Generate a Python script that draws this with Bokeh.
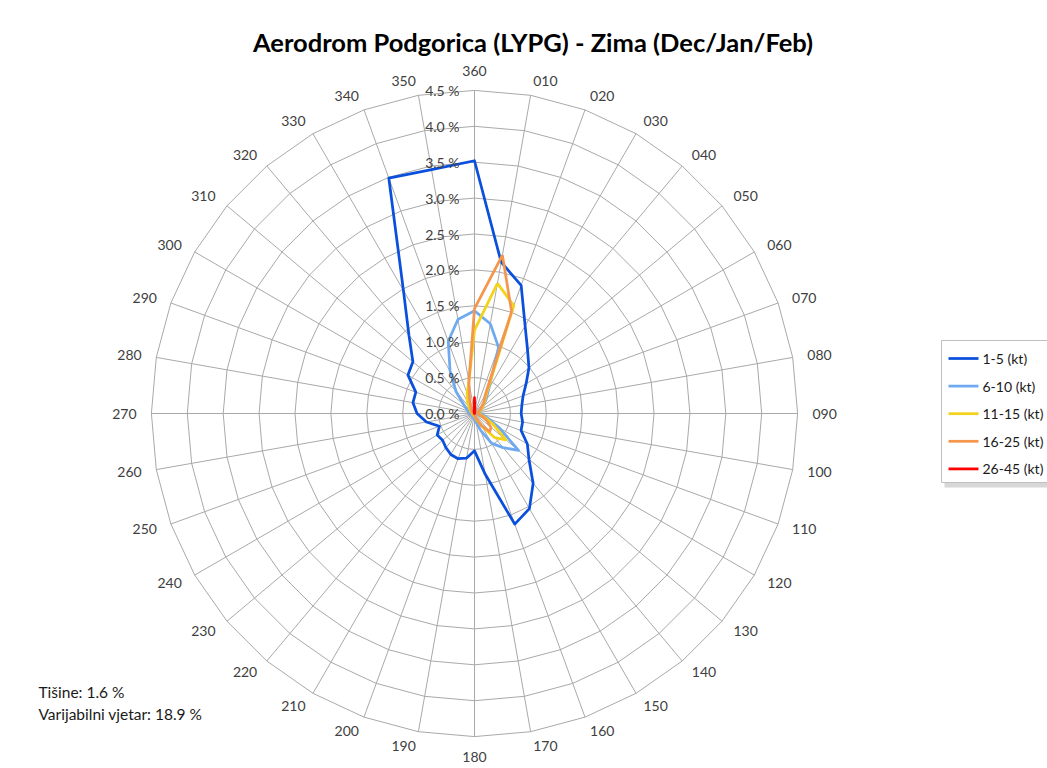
import numpy as np
from bokeh.plotting import figure
from bokeh.models import Range1d
from bokeh.embed import file_html
from bokeh.resources import INLINE
from bokeh.core.properties import value

# ---------------- data ----------------
directions = ["010", "020", "030", "040", "050", "060", "070", "080", "090",
              "100", "110", "120", "130", "140", "150", "160", "170", "180",
              "190", "200", "210", "220", "230", "240", "250", "260", "270",
              "280", "290", "300", "310", "320", "330", "340", "350", "360"]

ring_values = [0.0, 0.5, 1.0, 1.5, 2.0, 2.5, 3.0, 3.5, 4.0, 4.5]
ring_labels = ["0.0 %", "0.5 %", "1.0 %", "1.5 %", "2.0 %", "2.5 %",
               "3.0 %", "3.5 %", "4.0 %", "4.5 %"]

series_names = ["1-5 (kt)", "6-10 (kt)", "11-15 (kt)", "16-25 (kt)", "26-45 (kt)"]
series_colors = ["#0a50dc", "#6faaf0", "#f2d21a", "#f5964d", "#ff0000"]

kt_1_5 = [2.14, 1.90, 1.41, 1.15, 0.99, 0.83, 0.72, 0.67, 0.65,
          0.68, 0.69, 0.85, 0.99, 1.27, 1.53, 1.64, 0.86, 0.52,
          0.63, 0.67, 0.66, 0.62, 0.58, 0.60, 0.52, 0.68, 0.80,
          0.87, 0.87, 1.07, 1.12, 1.42, 1.98, 3.49, 3.45, 3.52]
kt_6_10 = [1.27, 0.98, 0.40, 0.25, 0.15, 0.10, 0.08, 0.07, 0.08,
           0.12, 0.20, 0.40, 0.80, 0.62, 0.48, 0.25, 0.12, 0.08,
           0.06, 0.05, 0.05, 0.05, 0.05, 0.05, 0.05, 0.06, 0.07,
           0.08, 0.10, 0.13, 0.20, 0.40, 0.68, 1.07, 1.33, 1.43]
kt_11_15 = [1.84, 1.60, 0.35, 0.22, 0.15, 0.10, 0.07, 0.06, 0.06,
            0.08, 0.15, 0.30, 0.57, 0.44, 0.20, 0.10, 0.05, 0.04,
            0.03, 0.03, 0.03, 0.03, 0.03, 0.03, 0.03, 0.03, 0.03,
            0.04, 0.05, 0.06, 0.08, 0.12, 0.20, 0.30, 0.45, 1.16]
kt_16_25 = [2.24, 1.51, 0.30, 0.20, 0.12, 0.08, 0.05, 0.05, 0.05,
            0.06, 0.12, 0.20, 0.30, 0.33, 0.20, 0.08, 0.04, 0.03,
            0.02, 0.02, 0.02, 0.02, 0.02, 0.02, 0.02, 0.02, 0.02,
            0.02, 0.03, 0.04, 0.05, 0.08, 0.10, 0.20, 0.45, 1.46]
kt_26_45 = [0.03, 0.0, 0.0, 0.0, 0.0, 0.0, 0.0, 0.0, 0.0,
            0.0, 0.0, 0.0, 0.0, 0.0, 0.0, 0.0, 0.0, 0.0,
            0.0, 0.0, 0.0, 0.0, 0.0, 0.0, 0.0, 0.0, 0.0,
            0.0, 0.0, 0.0, 0.0, 0.0, 0.0, 0.0, 0.03, 0.22]

title_text = "Aerodrom Podgorica (LYPG) - Zima (Dec/Jan/Feb)"
note_calm = "Tišine: 1.6 %"
note_var = "Varijabilni vjetar: 18.9 %"

series_values = [kt_1_5, kt_6_10, kt_11_15, kt_16_25, kt_26_45]

# ---------------- layout helpers ----------------
W, H = 1047, 768
S = 71.8             # px per percent
CX, CY = 474, 413    # centre in picture pixels
OFF = 0              # figure origin in the picture


def px(x, y):
    """picture pixel -> data coordinates"""
    return (x - CX) / S, (CY - y) / S


FONT = "Lato"

p = figure(width=W, height=H, output_backend="svg", toolbar_location=None,
           x_axis_type=None, y_axis_type=None, min_border=0,
           x_range=Range1d(-(CX - OFF) / S, (W - (CX - OFF)) / S),
           y_range=Range1d(-(H - (CY - OFF)) / S, (CY - OFF) / S))
p.outline_line_color = None
p.grid.visible = False
p.background_fill_color = "white"
p.border_fill_color = "white"

theta = np.deg2rad([int(d) for d in directions])
rmax = ring_values[-1]

# rings (polygons)
ring_xs, ring_ys = [], []
for r in ring_values[1:]:
    xs = list(r * np.sin(theta)) + [r * np.sin(theta[0])]
    ys = list(r * np.cos(theta)) + [r * np.cos(theta[0])]
    ring_xs.append(xs)
    ring_ys.append(ys)
p.multi_line(ring_xs, ring_ys, line_color="#a9a9a9", line_width=1)

# spokes
p.segment(x0=np.zeros(len(theta)), y0=np.zeros(len(theta)),
          x1=rmax * np.sin(theta), y1=rmax * np.cos(theta),
          line_color="#a9a9a9", line_width=1)

# series
for name, col, vals in zip(series_names, series_colors, series_values):
    v = np.array(vals)
    xs = list(v * np.sin(theta)) + [v[0] * np.sin(theta[0])]
    ys = list(v * np.cos(theta)) + [v[0] * np.cos(theta[0])]
    p.line(xs, ys, line_color=col, line_width=2.75, line_join="round")

# radial value labels
p.text(x=[-15 / S] * len(ring_values), y=ring_values, text=ring_labels,
       text_align="right", text_baseline="middle", text_font=value(FONT),
       text_font_size="14px", text_color="#404040")

# direction labels
r0 = 338 / S
groups = {"top": [], "bottom": [], "right": [], "left": []}
for d, t in zip(directions, theta):
    deg = int(d) % 360
    if deg == 0:
        groups["top"].append((d, t))
    elif deg == 180:
        groups["bottom"].append((d, t))
    elif deg < 180:
        groups["right"].append((d, t))
    else:
        groups["left"].append((d, t))
spec = {"top": ("center", "bottom"), "bottom": ("center", "top"),
        "right": ("left", "middle"), "left": ("right", "middle")}
for g, items in groups.items():
    if not items:
        continue
    al, bl = spec[g]
    p.text(x=[r0 * np.sin(t) for _, t in items], y=[r0 * np.cos(t) for _, t in items],
           text=[d for d, _ in items], text_align=al, text_baseline=bl,
           text_font=value(FONT), text_font_size="14px", text_color="#404040")

# title
tx, ty = px(532.5, 41)
p.text(x=[tx], y=[ty], text=[title_text], text_align="center", text_baseline="middle",
       text_font=value(FONT), text_font_style="bold", text_font_size="25.5px",
       text_color="#000000")

# notes
nx, ny1 = px(38, 691)
_, ny2 = px(38, 713)
p.text(x=[nx, nx], y=[ny1, ny2], text=[note_calm, note_var], text_align="left",
       text_baseline="middle", text_font=value(FONT), text_font_size="15.5px",
       text_color="#1a1a1a")

# legend (drawn manually)
lx0, ly0 = px(941, 340)
lx1, ly1 = px(1080, 482)
sx0, sy0 = px(944, 344)
sx1, sy1 = px(1080, 487)
p.quad(left=sx0, right=sx1, top=sy0, bottom=sy1, fill_color="#bdbdbd",
       fill_alpha=0.6, line_color=None)
p.quad(left=lx0, right=lx1, top=ly0, bottom=ly1, fill_color="white",
       line_color="#bfbfbf", line_width=1)
for i, (name, col) in enumerate(zip(series_names, series_colors)):
    yy = 358 + i * 27.6
    a0, b0 = px(948, yy)
    a1, _ = px(978, yy)
    a2, _ = px(982, yy)
    p.line([a0, a1], [b0, b0], line_color=col, line_width=2.75)
    p.text(x=[a2], y=[b0], text=[name], text_align="left", text_baseline="middle",
           text_font=value(FONT), text_font_size="14px", text_color="#1a1a1a")

open("out.html", "w").write(file_html(p, INLINE))
